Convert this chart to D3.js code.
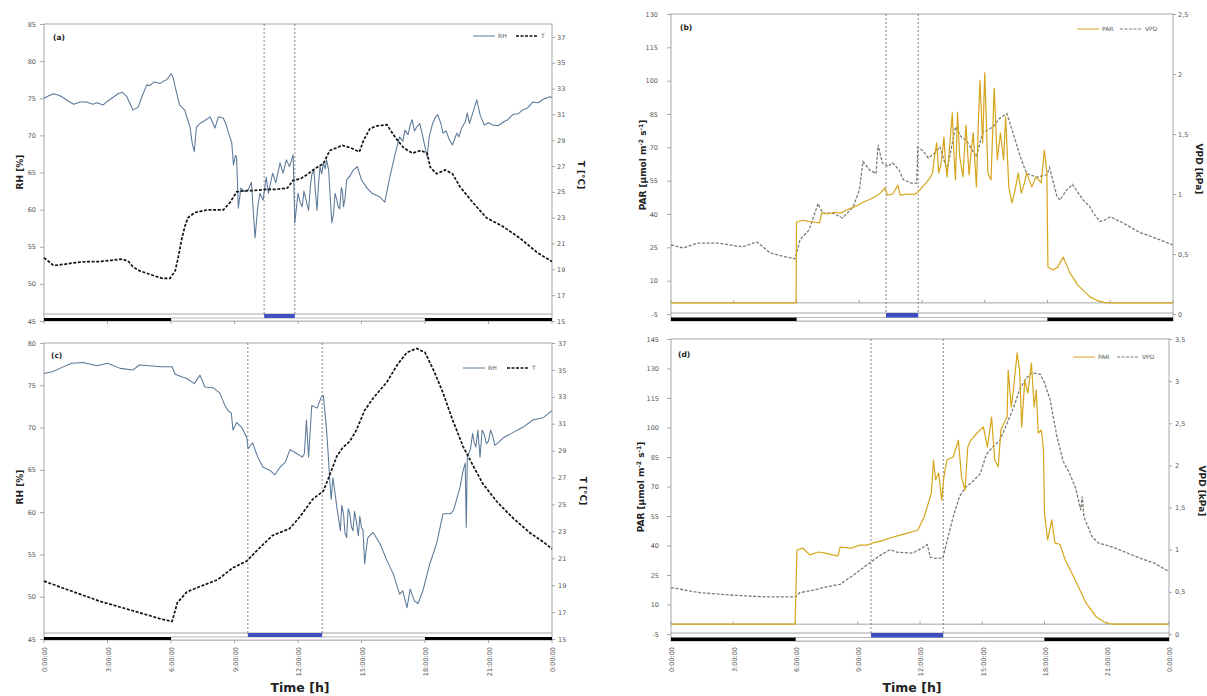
<!DOCTYPE html>
<html><head><meta charset="utf-8">
<script src="https://cdn.jsdelivr.net/npm/d3@7"></script>
<style>body{margin:0;background:#fff}svg{display:block}</style></head>
<body><svg id="chart" width="1207" height="696"></svg>
<script>
// ---------- DATA (time in hours, value) ----------
const rhA = [[0,75.0],[0.2,75.3],[0.45,75.6],[0.7,75.4],[0.9,75.1],[1.1,74.7],[1.4,74.2],[1.7,74.5],[2.0,74.5],[2.3,74.2],[2.5,74.4],[2.8,74.1],[3.0,74.6],[3.2,75.0],[3.5,75.6],[3.7,75.8],[3.9,75.3],[4.06,74.3],[4.2,73.4],[4.45,73.8],[4.6,75.0],[4.85,76.8],[5.0,76.7],[5.2,77.2],[5.5,77.0],[5.7,77.4],[5.8,77.5],[6.0,78.3],[6.1,77.8],[6.2,76.5],[6.4,74.1],[6.65,73.4],[6.8,72.0],[6.9,71.1],[7.0,69.0],[7.1,67.8],[7.2,71.1],[7.37,71.6],[7.6,72.0],[7.85,72.5],[8.0,71.5],[8.08,71.0],[8.24,72.5],[8.47,72.3],[8.6,71.5],[8.7,70.5],[8.87,69.0],[8.95,66.0],[9.04,67.3],[9.1,67.1],[9.18,60.2],[9.3,62.9],[9.5,62.4],[9.64,62.6],[9.8,63.7],[9.97,56.2],[10.1,60.4],[10.2,62.2],[10.35,61.3],[10.5,64.4],[10.6,62.2],[10.8,64.9],[10.95,63.6],[11.15,66.3],[11.3,64.9],[11.45,66.7],[11.6,65.8],[11.77,67.4],[11.85,58.2],[12.0,62.2],[12.1,61.0],[12.2,60.4],[12.28,62.5],[12.35,61.7],[12.42,60.8],[12.5,59.9],[12.58,63.0],[12.65,64.7],[12.75,65.3],[12.82,62.5],[12.9,59.9],[12.97,63.5],[13.04,65.8],[13.12,64.8],[13.2,66.3],[13.28,65.5],[13.35,66.7],[13.45,65.3],[13.52,61.8],[13.6,58.2],[13.68,59.5],[13.75,62.2],[13.82,61.5],[13.9,60.4],[13.97,60.1],[14.05,63.0],[14.1,62.5],[14.15,60.4],[14.22,61.5],[14.3,64.0],[14.45,64.5],[14.6,65.3],[14.8,65.8],[15.0,64.0],[15.26,62.9],[15.5,62.2],[15.87,61.7],[16.1,61.0],[16.34,64.4],[16.6,67.6],[16.8,69.8],[16.95,69.2],[17.05,70.7],[17.2,70.1],[17.3,71.4],[17.4,72.1],[17.5,70.6],[17.6,71.1],[17.75,71.6],[17.9,69.8],[18.1,67.1],[18.2,69.8],[18.35,71.5],[18.5,72.5],[18.6,72.8],[18.75,71.6],[18.85,70.3],[19.0,70.6],[19.15,69.4],[19.3,68.7],[19.5,70.3],[19.6,69.8],[19.75,71.1],[19.9,71.8],[20.0,73.0],[20.1,71.6],[20.3,73.4],[20.45,74.8],[20.6,72.8],[20.8,71.4],[21.0,71.7],[21.2,71.4],[21.45,71.3],[21.7,71.8],[21.9,72.1],[22.15,72.8],[22.4,72.9],[22.6,73.4],[22.85,73.7],[23.1,74.5],[23.35,74.4],[23.6,74.9],[23.9,75.2],[24,75.1]];
const tempA = [[0,19.9],[0.45,19.3],[1.0,19.4],[1.4,19.5],[2.0,19.6],[2.6,19.6],[3.2,19.7],[3.7,19.8],[4.0,19.6],[4.2,19.2],[4.5,18.9],[4.85,18.7],[5.2,18.5],[5.6,18.3],[5.95,18.3],[6.2,18.9],[6.35,20.0],[6.5,21.3],[6.65,22.3],[6.8,23.0],[7.13,23.4],[7.7,23.6],[8.47,23.6],[8.8,24.2],[9.1,25.0],[9.5,25.1],[9.9,25.1],[10.5,25.2],[11.0,25.2],[11.5,25.3],[11.77,25.9],[12.1,26.0],[12.4,26.3],[12.8,26.8],[13.2,27.2],[13.5,28.2],[13.8,28.4],[14.1,28.6],[14.5,28.4],[14.9,28.1],[15.1,29.0],[15.4,29.9],[15.7,30.1],[16.2,30.2],[16.6,29.2],[17.0,28.4],[17.4,28.0],[17.8,28.2],[18.1,28.0],[18.25,26.9],[18.55,26.4],[18.95,26.7],[19.3,26.4],[19.65,25.4],[20.0,24.7],[20.3,24.1],[20.9,23.0],[21.7,22.3],[22.5,21.4],[23.3,20.3],[24,19.6]];
const parB = [[0,0],[5.98,0],[6.0,36.4],[6.3,37.2],[6.5,36.8],[6.8,36.4],[7.1,36.0],[7.2,40.4],[7.5,40.0],[7.8,40.8],[8.1,40.4],[8.4,41.8],[8.7,43.0],[9.0,44.3],[9.2,45.4],[9.5,46.5],[9.8,48.0],[10.0,49.4],[10.23,51.7],[10.35,48.5],[10.6,49.0],[10.85,53.0],[10.95,48.5],[11.3,49.0],[11.6,48.8],[11.75,49.4],[12.0,52.0],[12.2,54.0],[12.4,56.5],[12.5,58.5],[12.6,66.0],[12.7,72.0],[12.8,58.5],[12.9,62],[12.98,68.0],[13.05,74.7],[13.12,63.0],[13.2,56.7],[13.32,70.5],[13.45,85.5],[13.52,68.0],[13.6,55.3],[13.7,85.9],[13.8,66.0],[13.96,56.7],[14.1,80.0],[14.25,57.6],[14.35,68.0],[14.45,76.5],[14.6,52.2],[14.7,82.0],[14.77,100.3],[14.9,72.0],[15.0,103.5],[15.08,80.0],[15.15,58.5],[15.3,55.3],[15.45,96.7],[15.6,64.3],[15.75,76.5],[15.9,64.3],[16.0,83.7],[16.15,52.2],[16.3,45.0],[16.45,50.8],[16.6,58.5],[16.75,49.4],[16.9,54.0],[17.0,58.5],[17.25,52.2],[17.45,56.7],[17.7,54.0],[17.85,68.8],[17.97,58.5],[18.02,16.2],[18.25,14.8],[18.5,16.2],[18.75,20.6],[19.07,13.5],[19.45,8.0],[20.03,2.7],[20.4,1.0],[20.7,0.2],[21,0],[24,0]];
const vpdB = [[0,0.575],[0.57,0.55],[1.24,0.59],[2.34,0.59],[3.0,0.57],[3.44,0.56],[4.1,0.6],[4.4,0.56],[4.73,0.51],[5.36,0.48],[5.93,0.46],[6.17,0.62],[6.6,0.70],[7.03,0.92],[7.25,0.84],[7.75,0.84],[8.2,0.80],[8.7,0.89],[9.0,1.03],[9.18,1.27],[9.5,1.2],[9.8,1.17],[9.9,1.41],[10.1,1.26],[10.37,1.23],[10.6,1.26],[10.9,1.2],[11.1,1.12],[11.5,1.09],[11.75,1.09],[11.8,1.39],[12.05,1.36],[12.3,1.3],[12.6,1.34],[12.86,1.39],[13.2,1.2],[13.6,1.56],[13.9,1.47],[14.1,1.45],[14.6,1.31],[14.9,1.51],[15.4,1.56],[15.7,1.63],[16.06,1.67],[16.35,1.51],[16.7,1.31],[17.0,1.17],[17.5,1.14],[17.97,1.16],[18.1,1.22],[18.45,0.98],[18.6,0.95],[18.9,1.03],[19.2,1.08],[19.7,0.95],[20.0,0.9],[20.2,0.84],[20.5,0.77],[20.7,0.78],[21.0,0.81],[21.6,0.76],[22.4,0.68],[23.2,0.63],[24,0.575]];
const rhC = [[0,76.4],[0.4,76.6],[0.75,77.0],[1.3,77.6],[1.85,77.7],[2.2,77.5],[2.5,77.3],[3.0,77.6],[3.6,77.0],[4.2,76.8],[4.5,77.4],[5.0,77.3],[5.5,77.2],[6.05,77.2],[6.2,76.3],[6.5,76.0],[6.75,75.8],[7.1,75.2],[7.37,76.2],[7.6,74.8],[8.0,74.7],[8.3,74.1],[8.55,72.6],[8.7,72.0],[8.85,71.7],[8.93,69.7],[9.1,70.6],[9.35,70.0],[9.58,68.8],[9.64,67.5],[9.85,68.2],[10.1,66.5],[10.35,65.3],[10.7,64.9],[10.9,64.4],[11.15,65.3],[11.4,65.9],[11.62,67.4],[11.9,67.0],[12.2,66.5],[12.3,66.9],[12.4,70.9],[12.5,66.5],[12.65,72.6],[12.9,72.3],[13.1,73.6],[13.2,73.8],[13.35,69.7],[13.42,67.1],[13.5,63.7],[13.57,61.5],[13.65,64.1],[13.72,62.8],[13.84,60.5],[13.92,59.2],[14.0,57.8],[14.07,60.8],[14.15,59.8],[14.22,57.5],[14.3,57.0],[14.37,60.4],[14.45,59.8],[14.52,58.3],[14.6,57.8],[14.67,60.1],[14.75,59.0],[14.85,57.2],[14.92,59.5],[15.0,58.2],[15.07,57.9],[15.15,53.9],[15.22,55.5],[15.3,57.0],[15.55,57.6],[15.87,56.3],[16.2,54.3],[16.5,52.7],[16.8,50.3],[16.95,50.7],[17.15,48.7],[17.3,50.9],[17.5,49.5],[17.67,49.2],[17.9,50.7],[18.23,53.9],[18.55,56.3],[18.85,59.8],[19.2,59.8],[19.35,60.2],[19.65,62.9],[19.8,64.9],[19.9,65.8],[19.95,58.2],[20.0,66.5],[20.15,67.5],[20.25,69.3],[20.32,68.3],[20.4,67.7],[20.5,69.7],[20.55,68.0],[20.6,66.5],[20.7,69.7],[20.8,69.2],[20.9,68.1],[21.0,68.4],[21.1,69.7],[21.2,69.0],[21.3,67.9],[21.5,68.3],[21.7,68.8],[22.15,69.4],[22.6,70.0],[23.1,70.9],[23.6,71.2],[24,72.0]];
const tempC = [[0,19.3],[1.05,18.7],[2.65,17.8],[4.2,17.1],[5.5,16.5],[6.05,16.3],[6.3,17.7],[6.75,18.5],[7.37,18.9],[8.2,19.4],[8.93,20.3],[9.58,20.8],[10.2,21.8],[10.8,22.7],[11.6,23.2],[12.1,24.1],[12.7,25.4],[13.2,26.0],[13.5,27.2],[13.84,28.6],[14.1,29.2],[14.45,29.7],[14.75,30.5],[15.15,32.0],[15.55,32.9],[16.2,34.1],[16.7,35.4],[17.15,36.3],[17.6,36.6],[18.0,36.3],[18.4,35.0],[18.85,33.3],[19.3,31.3],[19.8,29.3],[20.3,27.8],[20.75,26.5],[21.4,25.2],[22.15,24.0],[22.95,22.9],[23.6,22.2],[24,21.7]];
const parD = [[0,0],[5.98,0],[6.07,37.7],[6.35,38.7],[6.7,35.2],[7.1,36.7],[7.5,36.0],[7.8,35.2],[8.05,34.7],[8.15,39.2],[8.7,38.7],[9.1,40.2],[9.44,40.2],[9.8,41.5],[10.2,42.5],[10.55,43.8],[11.04,45.3],[11.4,46.3],[11.9,47.9],[12.2,54.5],[12.55,66.7],[12.65,83.5],[12.75,73.3],[12.9,76.8],[13.05,63.1],[13.15,74.8],[13.3,83.5],[13.6,85],[13.85,93.6],[14.0,74.8],[14.17,68.2],[14.3,90],[14.45,93.6],[14.75,97.2],[15.05,100.3],[15.25,90],[15.45,105.3],[15.6,83.5],[15.77,80],[15.9,98.7],[16.05,102.3],[16.2,105.3],[16.25,129.2],[16.4,110.4],[16.5,119],[16.68,137.9],[16.8,129.2],[16.9,100.3],[17.05,124.1],[17.2,117.5],[17.37,132.8],[17.5,110.4],[17.6,119],[17.7,97.2],[17.85,98.7],[17.95,88.5],[18.0,56.5],[18.15,42.8],[18.35,53],[18.5,41.3],[18.75,40.5],[19.0,32.6],[19.55,20.9],[20.0,10.8],[20.5,3.6],[20.95,0.6],[21.3,0],[24,0]];
const vpdD = [[0,0.55],[1.4,0.49],[3,0.46],[4.6,0.44],[6,0.44],[6.2,0.49],[6.85,0.52],[7.5,0.56],[8.15,0.59],[8.8,0.70],[9.44,0.82],[10.0,0.92],[10.55,1.0],[10.9,0.97],[11.66,0.96],[12.1,1.02],[12.35,1.06],[12.5,0.91],[12.7,0.9],[13.1,0.9],[13.3,1.1],[13.6,1.39],[13.9,1.63],[14.2,1.74],[14.5,1.8],[14.9,1.9],[15.2,2.13],[15.5,2.22],[15.85,2.30],[16.2,2.5],[16.5,2.68],[16.8,2.9],[17.1,3.03],[17.4,3.1],[17.8,3.08],[18.0,2.98],[18.27,2.78],[18.6,2.34],[18.9,2.05],[19.2,1.91],[19.5,1.73],[19.75,1.47],[19.82,1.63],[19.9,1.39],[20.3,1.15],[20.6,1.08],[21.3,1.03],[21.9,0.97],[22.6,0.9],[23.3,0.84],[24,0.74]];

const hourTicks = [0,3,6,9,12,15,18,21,24];
const hourLabels = ["0:00:00","3:00:00","6:00:00","9:00:00","12:00:00","15:00:00","18:00:00","21:00:00","0:00:00"];
const nightSpans = [[0,6],[18,24]];
const daySpan = [6,18];
const measureA = [10.4,11.85], measureB = [10.28,11.82], measureC = [9.63,13.14], measureD = [9.64,13.12];
const rhTicksA = [45,50,55,60,65,70,75,80,85];
const tTicksA = [15,17,19,21,23,25,27,29,31,33,35,37];
const rhTicksC = [45,50,55,60,65,70,75,80];
const tTicksC = [15,17,19,21,23,25,27,29,31,33,35,37];
const parTicksB = [-5,10,25,40,55,70,85,100,115,130];
const vpdTicksB = [0,0.5,1,1.5,2,2.5];
const parTicksD = [-5,10,25,40,55,70,85,100,115,130,145];
const vpdTicksD = [0,0.5,1,1.5,2,2.5,3,3.5];

// ---------- DRAW ----------
const svg = d3.select("#chart");
const FONT = "DejaVu Sans, Verdana, sans-serif";
const comma = d => String(d).replace('.', ',');
const RHC = "#5a7898", TC = "#111", PARC = "#d6a51c", VPDC = "#7a7c70";

function panel(c) {
  const g = svg.append("g");
  const x = d3.scaleLinear().domain([0,24]).range([c.x0, c.x1]);
  const yL = d3.scaleLinear().domain(c.leftDom).range([c.y1, c.y0]);
  const yR = d3.scaleLinear().domain(c.rightDom).range([c.y1, c.y0]);

  g.append("rect").attr("x", c.x0).attr("y", c.y0).attr("width", c.x1-c.x0).attr("height", c.sBot-c.y0)
    .attr("fill","none").attr("stroke","#a6a6a6").attr("stroke-width",1);

  const axisY = c.zero ? yL(0) : c.sBot;
  if (c.zero) g.append("line").attr("x1",c.x0).attr("x2",c.x1).attr("y1",axisY).attr("y2",axisY).attr("stroke","#a6a6a6");
  g.selectAll(null).data(hourTicks).enter().append("line")
    .attr("x1", d=>x(d)).attr("x2", d=>x(d)).attr("y1", axisY).attr("y2", axisY + (c.zero ? -3 : 3))
    .attr("stroke","#a6a6a6");

  const la = g.append("g").attr("transform",`translate(${c.x0},0)`)
    .call(d3.axisLeft(yL).tickValues(c.lTicks).tickSize(4).tickPadding(c.lPad).tickFormat(comma));
  const ra = g.append("g").attr("transform",`translate(${c.x1},0)`)
    .call(d3.axisRight(yR).tickValues(c.rTicks).tickSize(3).tickPadding(c.rPad).tickFormat(comma));
  [la, ra].forEach(a => {
    a.select(".domain").remove();
    a.selectAll("line").attr("stroke","#a6a6a6");
    a.selectAll("text").attr("font-family",FONT).attr("font-size",6.5).attr("fill","#555");
  });

  const mid = (c.sTop + c.sBot)/2 + 0.5;
  g.append("line").attr("x1",c.x0).attr("x2",c.x1).attr("y1",c.sTop).attr("y2",c.sTop).attr("stroke","#a6a6a6");
  g.append("rect").attr("x", x(daySpan[0])).attr("y", mid).attr("width", x(daySpan[1])-x(daySpan[0])).attr("height", c.sBot-mid)
    .attr("fill","#fff").attr("stroke","#a6a6a6").attr("stroke-width",0.8);
  g.selectAll(null).data(nightSpans).enter().append("rect")
    .attr("x", d=>x(d[0])).attr("width", d=>x(d[1])-x(d[0])).attr("y", mid).attr("height", c.sBot-mid).attr("fill","#000");
  g.append("rect").attr("x", x(c.meas[0])).attr("width", x(c.meas[1])-x(c.meas[0])).attr("y", c.sTop).attr("height", mid-c.sTop)
    .attr("fill","#3f4fc0");

  g.selectAll(null).data(c.meas).enter().append("line")
    .attr("x1", d=>x(d)).attr("x2", d=>x(d)).attr("y1", c.y0).attr("y2", c.sTop)
    .attr("stroke","#666").attr("stroke-width",0.8).attr("stroke-dasharray","2,2");

  const byTime = (a,b) => a[0]-b[0];
  const lineL = d3.line().x(d=>x(d[0])).y(d=>yL(d[1]));
  const lineR = d3.line().x(d=>x(d[0])).y(d=>yR(d[1]));
  const s1 = c.s1.slice().sort(byTime), s2 = c.s2.slice().sort(byTime);
  if (c.kind === "rh") {
    g.append("path").datum(s1).attr("d", lineL).attr("fill","none").attr("stroke",RHC).attr("stroke-width",1.05).attr("stroke-linejoin","round");
    g.append("path").datum(s2).attr("d", lineR).attr("fill","none").attr("stroke",TC).attr("stroke-width",1.7).attr("stroke-dasharray","3,1.6");
  } else {
    g.append("path").datum(s2).attr("d", lineR).attr("fill","none").attr("stroke",VPDC).attr("stroke-width",1.3).attr("stroke-dasharray","3,1.6");
    g.append("path").datum(s1).attr("d", lineL).attr("fill","none").attr("stroke",PARC).attr("stroke-width",1.2).attr("stroke-linejoin","round");
  }

  const lg = g.append("g").attr("font-family",FONT).attr("font-size",6).attr("fill","#555");
  const L = c.leg;
  lg.append("line").attr("x1",L.x).attr("x2",L.x+22).attr("y1",L.y).attr("y2",L.y)
    .attr("stroke", c.kind==="rh" ? RHC : PARC).attr("stroke-width",1);
  lg.append("text").attr("x",L.x+25).attr("y",L.y).attr("dy","0.35em").text(c.names[0]);
  lg.append("line").attr("x1",L.x2).attr("x2",L.x2+22).attr("y1",L.y).attr("y2",L.y)
    .attr("stroke", c.kind==="rh" ? TC : VPDC).attr("stroke-width", c.kind==="rh"?1.4:1.1).attr("stroke-dasharray","3,1.5");
  lg.append("text").attr("x",L.x2+25).attr("y",L.y).attr("dy","0.35em").text(c.names[1]);

  g.append("text").attr("x", c.lab[0]).attr("y", c.lab[1]).attr("font-family",FONT).attr("font-weight","bold")
    .attr("font-size",7.5).attr("fill","#222").text(c.letter);

  const lt = g.append("text").attr("transform",`translate(${c.lt[0]},${c.lt[1]}) rotate(-90)`).attr("dy","0.35em")
    .attr("text-anchor","middle").attr("font-family",FONT).attr("font-weight","bold").attr("font-size",9).attr("fill","#222");
  if (c.kind === "rh") lt.text("RH [%]");
  else {
    lt.append("tspan").text("PAR [µmol m");
    lt.append("tspan").attr("font-size",6).attr("dy","-3.5").text("-2");
    lt.append("tspan").attr("dy","3.5").text(" s");
    lt.append("tspan").attr("font-size",6).attr("dy","-3.5").text("-1");
    lt.append("tspan").attr("dy","3.5").text("]");
  }
  g.append("text").attr("transform",`translate(${c.rt[0]},${c.rt[1]}) rotate(90)`).attr("dy","0.35em")
    .attr("text-anchor","middle").attr("font-family",FONT).attr("font-weight","bold").attr("font-size",9).attr("fill","#222")
    .text(c.kind === "rh" ? "T [°C]" : "VPD [kPa]");

  if (c.timeLabels) {
    g.selectAll(null).data(hourTicks).enter().append("text")
      .attr("transform", d=>`translate(${x(d)+1},647) rotate(-90)`).attr("dy","0.35em")
      .attr("text-anchor","end").attr("font-family",FONT).attr("font-size",6.5).attr("fill","#555")
      .text((d,i)=>hourLabels[i]);
    g.append("text").attr("x", c.timeX).attr("y", 692).attr("text-anchor","middle").attr("font-family",FONT)
      .attr("font-weight","bold").attr("font-size",12.5).attr("fill","#222").text("Time [h]");
  }
}

panel({kind:"rh", x0:44, x1:552, y0:24, y1:321, sTop:314, sBot:321, leftDom:[45,85], rightDom:[15,38],
  lTicks:rhTicksA, rTicks:tTicksA, lPad:4, rPad:2, meas:measureA, s1:rhA, s2:tempA,
  leg:{x:473, x2:516, y:36}, names:["RH","T"], letter:"(a)", lab:[53,40], lt:[20,172], rt:[581,175]});
panel({kind:"par", x0:671, x1:1173, y0:14, y1:314, sTop:313, sBot:321, leftDom:[-5,130], rightDom:[0,2.5], zero:true,
  lTicks:parTicksB, rTicks:vpdTicksB, lPad:9, rPad:2, meas:measureB, s1:parB, s2:vpdB,
  leg:{x:1077, x2:1120, y:29}, names:["PAR","VPD"], letter:"(b)", lab:[680,30], lt:[643,165], rt:[1199,169]});
panel({kind:"rh", x0:44, x1:552, y0:343, y1:639, sTop:633, sBot:640, leftDom:[45,80], rightDom:[15,37],
  lTicks:rhTicksC, rTicks:tTicksC, lPad:4, rPad:3, meas:measureC, s1:rhC, s2:tempC,
  leg:{x:463, x2:507, y:368}, names:["RH","T"], letter:"(c)", lab:[51,358], lt:[20,487], rt:[583,491],
  timeLabels:true, timeX:300});
panel({kind:"par", x0:671, x1:1169, y0:339, y1:634, sTop:633, sBot:641, leftDom:[-5,145], rightDom:[0,3.5], zero:true,
  lTicks:parTicksD, rTicks:vpdTicksD, lPad:8, rPad:3, meas:measureD, s1:parD, s2:vpdD,
  leg:{x:1073, x2:1117, y:357}, names:["PAR","VPD"], letter:"(d)", lab:[678,357], lt:[641,487], rt:[1202,491],
  timeLabels:true, timeX:912});
</script></body></html>
